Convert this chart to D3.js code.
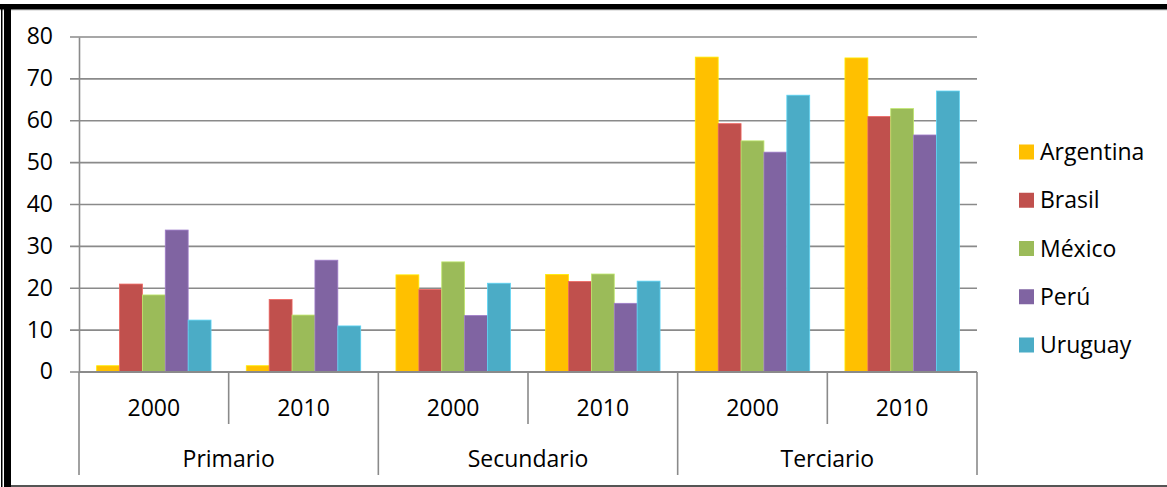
<!DOCTYPE html>
<html>
<head>
<meta charset="utf-8">
<script src="https://cdn.jsdelivr.net/npm/d3@7"></script>
<style>
  html, body { margin: 0; padding: 0; background: #fff; }
  svg { display: block; }
  svg text { font-family: "Open Sans", "Noto Sans", sans-serif; font-size: 23px; fill: #000; }
</style>
</head>
<body>
<svg id="chart" width="1167" height="487"></svg>
<script>
// Education levels and census years
const levels = ["Primario", "Secundario", "Terciario"];
const years = ["2000", "2010"];
const countries = ["Argentina", "Brasil", "México", "Perú", "Uruguay"];
const colors = ["#FFC000", "#C0504D", "#9BBB59", "#8064A2", "#4BACC6"];

// Values per country, in order: Primario 2000, Primario 2010, Secundario 2000, Secundario 2010, Terciario 2000, Terciario 2010
const argentina = [1.5, 1.5, 23.2, 23.3, 75.2, 75.0];
const brasil    = [21.0, 17.3, 19.7, 21.6, 59.3, 61.0];
const mexico    = [18.4, 13.6, 26.3, 23.4, 55.2, 62.9];
const peru      = [33.9, 26.7, 13.5, 16.4, 52.5, 56.6];
const uruguay   = [12.4, 11.0, 21.2, 21.7, 66.1, 67.1];
const seriesValues = [argentina, brasil, mexico, peru, uruguay];

const yTicks = [0, 10, 20, 30, 40, 50, 60, 70, 80];

(function () {
  const svg = d3.select("#chart");
  const W = 1167, H = 487;
  const FS = "23px";

  // Plot area
  const pLeft = 79, pRight = 977, pTop = 37, pBottom = 372;

  // One slot per level/year pair
  const slots = [];
  levels.forEach(l => years.forEach(yr => slots.push({ level: l, year: yr, key: l + "|" + yr })));

  const x0 = d3.scaleBand().domain(slots.map(d => d.key)).range([pLeft, pRight]).paddingInner(0).paddingOuter(0);
  const x1 = d3.scaleBand().domain(countries).range([0, x0.bandwidth()]).paddingInner(0).paddingOuter(0.77);
  const y = d3.scaleLinear().domain([0, 80]).range([pBottom, pTop]);

  const gridColor = "#8a8a8a";

  // Horizontal gridlines with short ticks left of the axis
  const gridG = svg.append("g");
  gridG.selectAll("line").data(yTicks).join("line")
    .attr("x1", pLeft - 9).attr("x2", pRight)
    .attr("y1", d => y(d)).attr("y2", d => y(d))
    .attr("stroke", gridColor).attr("stroke-width", 1.6);

  // Y axis
  const yAxis = d3.axisLeft(y).tickValues(yTicks).tickSize(0).tickPadding(0).tickFormat(d3.format("d"));
  const yG = svg.append("g").attr("transform", `translate(${pLeft},0)`).call(yAxis);
  yG.attr("font-size", null).attr("font-family", null);
  yG.select(".domain").attr("stroke", gridColor).attr("stroke-width", 1.6);
  yG.selectAll("text")
    .attr("x", -26)
    .attr("dy", "0.3em")
    .style("font-size", FS)
    .style("fill", "#000");

  // Bars
  const barsG = svg.append("g");
  slots.forEach((s, i) => {
    const g = barsG.append("g").attr("transform", `translate(${x0(s.key)},0)`);
    g.selectAll("rect").data(countries.map((c, ci) => ({ c, v: seriesValues[ci][i], color: colors[ci] })))
      .join("rect")
      .attr("x", d => x1(d.c))
      .attr("width", x1.bandwidth())
      .attr("y", d => y(d.v))
      .attr("height", d => y(0) - y(d.v))
      .attr("fill", d => d.color)
      .attr("stroke", d => d3.color(d.color).brighter(0.6))
      .attr("stroke-width", 0.8);
  });

  // Category axis: baseline and dividers
  const axisG = svg.append("g");
  axisG.append("line")
    .attr("x1", pLeft).attr("x2", pRight).attr("y1", pBottom).attr("y2", pBottom)
    .attr("stroke", gridColor).attr("stroke-width", 1.8);

  const boundaries = d3.range(slots.length + 1).map(i => pLeft + i * x0.bandwidth());
  axisG.selectAll("line.div").data(boundaries).join("line")
    .attr("class", "div")
    .attr("x1", d => d).attr("x2", d => d)
    .attr("y1", pBottom)
    .attr("y2", (d, i) => (i % 2 === 0 ? 475 : 424))
    .attr("stroke", gridColor).attr("stroke-width", 1.6);

  // Year labels
  axisG.selectAll("text.year").data(slots).join("text")
    .attr("class", "year")
    .attr("x", d => x0(d.key) + x0.bandwidth() / 2)
    .attr("y", 407)
    .attr("text-anchor", "middle")
    .attr("dominant-baseline", "central")
    .style("font-size", FS)
    .text(d => d.year);

  // Level labels
  axisG.selectAll("text.level").data(levels).join("text")
    .attr("class", "level")
    .attr("x", (d, i) => pLeft + (i * 2 + 1) * x0.bandwidth())
    .attr("y", 458)
    .attr("text-anchor", "middle")
    .attr("dominant-baseline", "central")
    .style("font-size", FS)
    .text(d => d);

  // Legend
  const legend = svg.append("g");
  const legendY = d3.scalePoint().domain(countries).range([152, 345]);
  countries.forEach((c, i) => {
    const cy = legendY(c);
    legend.append("rect")
      .attr("x", 1019).attr("y", cy - 7.5).attr("width", 15).attr("height", 15)
      .attr("fill", colors[i]);
    legend.append("text")
      .attr("x", 1040).attr("y", cy - 1)
      .attr("dominant-baseline", "central")
      .style("font-size", FS)
      .text(c);
  });

  // Frame around the chart
  const frame = svg.append("g");
  frame.append("rect").attr("x", 0).attr("y", 4).attr("width", W).attr("height", 5).attr("fill", "#000");
  frame.append("rect").attr("x", 0).attr("y", 9).attr("width", W).attr("height", 1.2).attr("fill", "#777");
  frame.append("rect").attr("x", 1).attr("y", 4).attr("width", 1.5).attr("height", H).attr("fill", "#000");
  frame.append("rect").attr("x", 4).attr("y", 4).attr("width", 7).attr("height", H).attr("fill", "#000");
  frame.append("rect").attr("x", 11).attr("y", 485).attr("width", W).attr("height", 2).attr("fill", "#555");
})();
</script>
</body>
</html>
